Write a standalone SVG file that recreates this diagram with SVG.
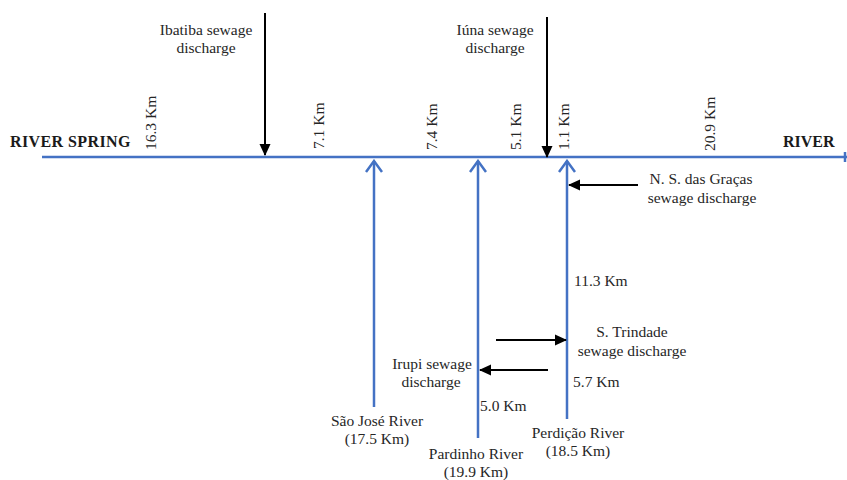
<svg xmlns="http://www.w3.org/2000/svg" width="847" height="480" viewBox="0 0 847 480">
<style>
text{font-family:"Liberation Serif","Times New Roman",serif;font-size:15.5px;fill:#262626}
.b{font-weight:bold;font-size:16px;fill:#1a1a1a}
.c{text-anchor:middle}
.blue{stroke:#4472C4;stroke-width:2.5;fill:none}
.blk{stroke:#000;stroke-width:2;fill:none}
</style>
<defs>
<marker id="bh" viewBox="0 0 12 12" refX="11" refY="6" markerWidth="12" markerHeight="12" markerUnits="userSpaceOnUse" orient="auto">
<path d="M0,0.5 L12,6 L0,11.5 Z" fill="#000"/>
</marker>
<marker id="oh" viewBox="0 0 16 18" refX="14" refY="9" markerWidth="16" markerHeight="18" markerUnits="userSpaceOnUse" orient="auto">
<path d="M3,1 L14,9 L3,17" fill="none" stroke="#4472C4" stroke-width="2.5"/>
</marker>
</defs>
<g id="connectors">
<line id="main-river" class="blue" x1="42" y1="157" x2="847" y2="157"/>
<line id="main-river-end" class="blue" x1="845" y1="152" x2="845" y2="162"/>
<line id="sao-jose" class="blue" x1="374" y1="407" x2="374" y2="161" marker-end="url(#oh)"/>
<line id="pardinho" class="blue" x1="478" y1="438" x2="478" y2="161" marker-end="url(#oh)"/>
<line id="perdicao" class="blue" x1="567" y1="419" x2="567" y2="161" marker-end="url(#oh)"/>
<line id="ibatiba-arrow" class="blk" x1="265" y1="13" x2="265" y2="155" marker-end="url(#bh)"/>
<line id="iuna-arrow" class="blk" x1="547" y1="17" x2="547" y2="157" marker-end="url(#bh)"/>
<line id="nsg-arrow" class="blk" x1="638" y1="185" x2="569" y2="185" marker-end="url(#bh)"/>
<line id="trindade-arrow" class="blk" x1="496" y1="340" x2="566" y2="340" marker-end="url(#bh)"/>
<line id="irupi-arrow" class="blk" x1="548" y1="370" x2="480" y2="370" marker-end="url(#bh)"/>
</g>
<g id="river-spring"><text class="b" x="10" y="147" letter-spacing="0.4">RIVER SPRING</text></g>
<g id="river"><text class="b" x="783" y="147">RIVER</text></g>
<g id="distances">
<text transform="translate(156,150) rotate(-90)">16.3 Km</text>
<text transform="translate(324,149) rotate(-90)">7.1 Km</text>
<text transform="translate(437,150) rotate(-90)">7.4 Km</text>
<text transform="translate(521,150) rotate(-90)">5.1 Km</text>
<text transform="translate(569,150) rotate(-90)">1.1 Km</text>
<text transform="translate(715,151) rotate(-90)">20.9 Km</text>
<text x="574" y="286">11.3 Km</text>
<text x="573" y="387">5.7 Km</text>
<text x="480" y="411">5.0 Km</text>
</g>
<g id="ibatiba"><text class="c" x="206" y="35">Ibatiba sewage</text><text class="c" x="206" y="53">discharge</text></g>
<g id="iuna"><text class="c" x="495" y="35">Iúna sewage</text><text class="c" x="495" y="53">discharge</text></g>
<g id="nsgracas"><text class="c" x="701" y="184">N. S. das Graças</text><text class="c" x="702" y="203">sewage discharge</text></g>
<g id="trindade"><text class="c" x="632" y="337">S. Trindade</text><text class="c" x="632" y="356">sewage discharge</text></g>
<g id="irupi"><text class="c" x="432" y="369">Irupi sewage</text><text class="c" x="431" y="387">discharge</text></g>
<g id="sao-jose-label"><text class="c" x="377" y="426">São José River</text><text class="c" x="377" y="444">(17.5 Km)</text></g>
<g id="pardinho-label"><text class="c" x="476" y="459">Pardinho River</text><text class="c" x="476" y="477">(19.9 Km)</text></g>
<g id="perdicao-label"><text class="c" x="578" y="438">Perdição River</text><text class="c" x="578" y="456">(18.5 Km)</text></g>
</svg>
